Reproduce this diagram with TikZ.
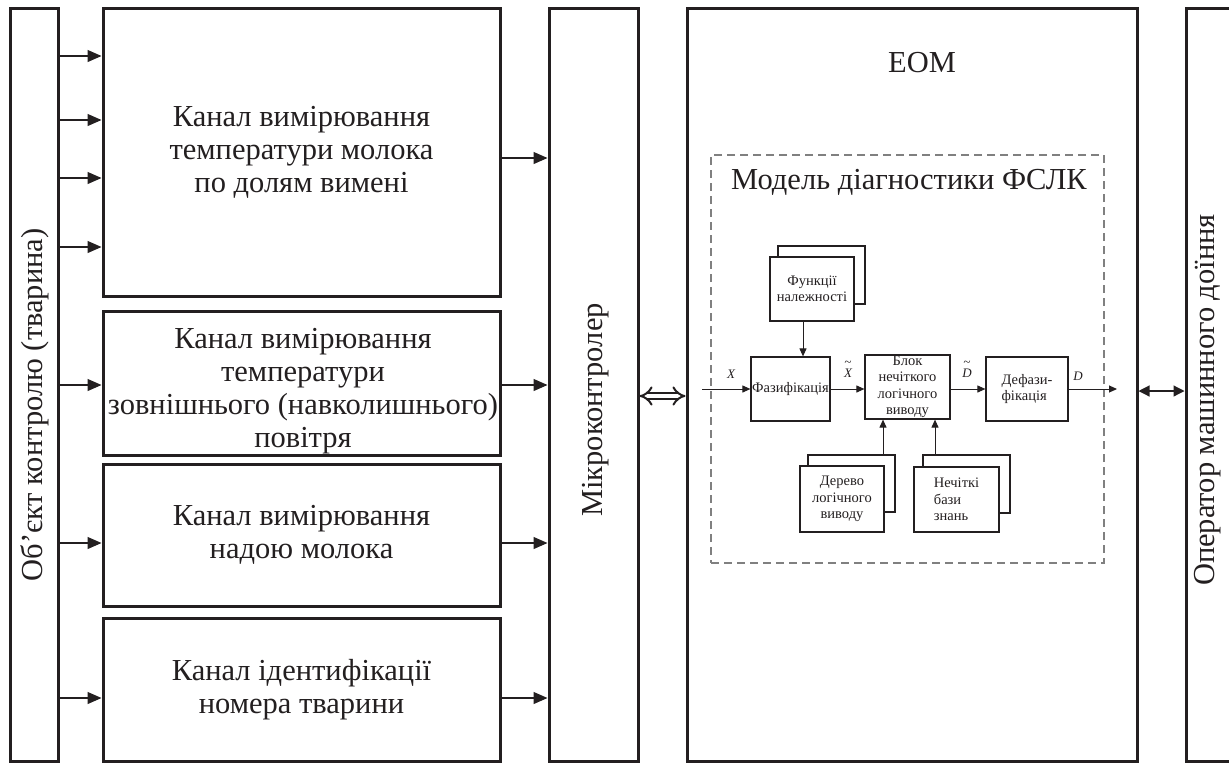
\documentclass[tikz,border=0pt]{standalone}
\usepackage{fontspec}
\setmainfont{Liberation Serif}
\usepackage{tikz}
\usetikzlibrary{positioning}
\usetikzlibrary{arrows.meta}
\definecolor{ink}{RGB}{35,31,32}

\begin{document}
\begin{tikzpicture}[x=1pt, y=-1pt, ink, text=ink,
    outer/.style = {draw, line width=3pt, inner sep=0pt, align=center, font=\fontsize{30.5}{33}\selectfont},
    small/.style = {draw, line width=1.2pt, fill=white, inner sep=0pt, align=center,
                    minimum width=84pt, minimum height=64pt, font=\fontsize{14.5}{16.5}\selectfont},
    big/.style = {align=center, font=\fontsize{30.5}{33}\selectfont},
    vert/.style = {rotate=90, font=\fontsize{30.5}{33}\selectfont},
    arr/.style = {line width=1.2pt, -{Triangle[length=14pt,width=12pt]}},
    sarr/.style = {line width=1pt, -{Triangle[length=8pt,width=7pt]}},
    sig/.style = {align=center, inner sep=1pt, font=\fontsize{13}{13}\selectfont\itshape}]
            \useasboundingbox (0,0) rectangle (1229,764);
            \clip (0,0) rectangle (1229,764);
            % Nodes
            \node[outer, minimum width=48pt, minimum height=753pt] (obj) at (34,384.5) {};
            \node[vert] (objtxt) at (35,405) {Об’єкт контролю (тварина)};
            \node[outer, minimum width=397pt, minimum height=288pt] (ch1) at (301.5,152) {Канал вимірювання\\температури молока\\по долям вимені};
            \node[outer, minimum width=397pt, minimum height=144pt] (ch2) at (301.5,383) {};
            \node[big] (ch2txt) at (303,391) {Канал вимірювання\\температури\\зовнішнього (навколишнього)\\повітря};
            \node[outer, minimum width=397pt, minimum height=142pt] (ch3) at (301.5,535) {Канал вимірювання\\надою молока};
            \node[outer, minimum width=397pt, minimum height=143pt] (ch4) at (301.5,689.5) {Канал ідентифікації\\номера тварини};
            \node[outer, minimum width=89pt, minimum height=753pt] (mc) at (593.5,384.5) {};
            \node[vert] (mctxt) at (596,410) {Мікроконтролер};
            \node[outer, minimum width=450pt, minimum height=753pt] (eom) at (912,384.5) {};
            \node[big] (eomtxt) at (922,63) {ЕОМ};
            \node[outer, minimum width=70pt, minimum height=753pt, anchor=west] (op) at (1184.5,384.5) {};
            \node[vert] (optxt) at (1208,400) {Оператор машинного доїння};
            % model
            \node[draw, gray, line width=1.2pt, dash pattern=on 8pt off 5pt, minimum width=393pt, minimum height=408pt] (model) at (907.5,359) {};
            \node[big] (modeltxt) at (909,182) {Модель діагностики ФСЛК};
            \node[small, minimum width=87pt, minimum height=58pt] (funb) at (821.5,275) {};
            \node[small] (fun) at (812,289) {Функції\\належності};
            \node[small, minimum width=79pt] (faz) at (790.5,389) {Фазифікація};
            \node[small, minimum width=85pt] (blok) at (907.5,387) {Блок\\нечіткого\\логічного\\виводу};
            \node[small, minimum width=82pt, align=left] (defaz) at (1027,389) {Дефази-\\фікація};
            \node[small, minimum width=87pt, minimum height=57pt] (treeb) at (851.5,483.5) {};
            \node[small, minimum height=66pt] (tree) at (842,499) {Дерево\\логічного\\виводу};
            \node[small, minimum width=87pt, minimum height=58pt] (kbb) at (966.5,484) {};
            \node[small, minimum width=85pt, minimum height=65pt, align=left] (kb) at (956.5,499.5) {Нечіткі\\бази\\знань};
            \coordinate (xin) at (702,389);
            \coordinate (dout) at (1117,389);
            \node[sig] (lx) at (731,374) {X};
            \node[sig] (lxt) at (848,369) {\textasciitilde\\[-2pt]X};
            \node[sig] (ldt) at (967,369) {\textasciitilde\\[-2pt]D};
            \node[sig] (ld) at (1078,376) {D};
            % Edges
            \foreach \y in {56,120,178,247}
              \draw[arr] (obj.east |- 0,\y) -- (ch1.west |- 0,\y);
            \draw[arr] (obj.east |- 0,385) -- (ch2.west |- 0,385);
            \draw[arr] (obj.east |- 0,543) -- (ch3.west |- 0,543);
            \draw[arr] (obj.east |- 0,698) -- (ch4.west |- 0,698);
            \draw[arr] (ch1.east |- 0,158) -- (mc.west |- 0,158);
            \draw[arr] (ch2.east |- 0,385) -- (mc.west |- 0,385);
            \draw[arr] (ch3.east |- 0,543) -- (mc.west |- 0,543);
            \draw[arr] (ch4.east |- 0,698) -- (mc.west |- 0,698);
            \draw[line width=2pt, double, double distance=4.5pt, {Implies[length=11pt,width=24pt]}-{Implies[length=11pt,width=24pt]}] (mc.east |- 0,396) -- (eom.west |- 0,396);
            \draw[line width=1.2pt, {Triangle[length=11pt,width=11pt]}-{Triangle[length=11pt,width=11pt]}] (eom.east |- 0,391) -- (op.west |- 0,391);
            \draw[sarr] (xin) -- (faz.west);
            \draw[sarr] (fun.south -| 803,0) -- (faz.north -| 803,0);
            \draw[sarr] (faz.east) -- (faz.east -| blok.west);
            \draw[sarr] (blok.east |- defaz.west) -- (defaz.west);
            \draw[sarr] (defaz.east) -- (dout);
            \draw[sarr] (treeb.north -| 883,0) -- (blok.south -| 883,0);
            \draw[sarr] (kbb.north -| 935,0) -- (blok.south -| 935,0);
\end{tikzpicture}
\end{document}
